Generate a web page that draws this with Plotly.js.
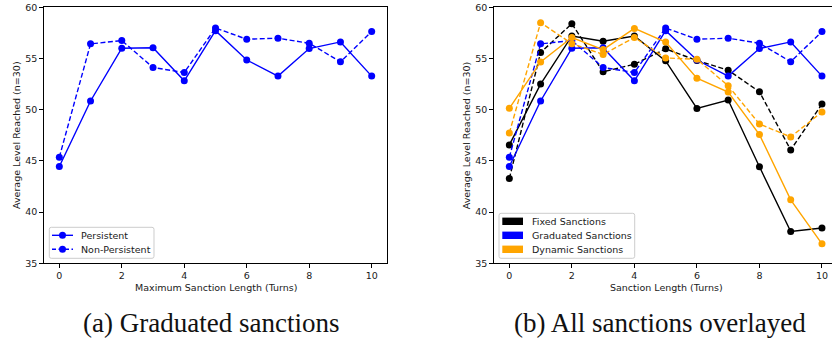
<!DOCTYPE html>
<html>
<head>
<meta charset="utf-8">
<script src="https://cdn.plot.ly/plotly-3.0.1.min.js"></script>
<style>
html,body{margin:0;padding:0;overflow:hidden;background:#fff;}
#chart{width:840px;height:339px;}
</style>
</head>
<body>
<div id="chart"></div>
<script>
// ---- data ----
const sanctionLength = [0,1,2,3,4,5,6,7,8,9,10];
const gradPersistent    = [44.45, 50.85, 56.0, 56.05, 52.82, 57.72, 54.85, 53.28, 55.97, 56.62, 53.28];
const gradNonPersistent = [45.36, 56.43, 56.75, 54.12, 53.63, 57.98, 56.88, 56.98, 56.49, 54.68, 57.63];
const fixedPersistent    = [46.56, 52.5, 57.2, 56.68, 57.2, 54.77, 50.12, 50.94, 44.43, 38.1, 38.45];
const fixedNonPersistent = [43.28, 55.58, 58.4, 53.7, 54.44, 55.94, 54.8, 53.86, 51.75, 46.07, 50.55];
const dynPersistent    = [50.13, 54.67, 57.05, 55.87, 57.94, 56.6, 53.08, 51.72, 47.57, 41.2, 36.9];
const dynNonPersistent = [47.73, 58.5, 56.45, 55.4, 57.05, 55.05, 54.93, 52.34, 48.6, 47.34, 49.78];
const xTicks = [0,2,4,6,8,10];
const yTicks = [35,40,45,50,55,60];
const leftLegendLabels = ['Persistent','Non-Persistent'];
const rightLegendLabels = ['Fixed Sanctions','Graduated Sanctions','Dynamic Sanctions'];
const yTitle = 'Average Level Reached (n=30)';
const xTitleLeft = 'Maximum Sanction Length (Turns)';
const xTitleRight = 'Sanction Length (Turns)';
const captionLeft = '(a) Graduated sanctions';
const captionRight = '(b) All sanctions overlayed';

// ---- styling ----
const W = 840, H = 339;
const BLUE = '#0000ff', BLACK = '#000000', ORANGE = '#ffa500';
const DASH = '5px,2.5px';
const LW = 1.4, MS = 7;
const SANS = 'DejaVu Sans';
const FS = 9.5;
const TXT = '#1a1a1a';
function px(x){ return x / W; }
function py(y){ return 1 - y / H; }

function tr(x, y, color, dashed, xa, ya){
  return {
    type:'scatter', mode:'lines+markers', x:x, y:y, xaxis:xa, yaxis:ya,
    line:{color:color, width:LW, dash: dashed ? DASH : 'solid'},
    marker:{color:color, size:MS},
    showlegend:false, hoverinfo:'skip'
  };
}

const data = [
  tr(sanctionLength, gradPersistent, BLUE, false, 'x', 'y'),
  tr(sanctionLength, gradNonPersistent, BLUE, true, 'x', 'y'),
  tr(sanctionLength, fixedPersistent, BLACK, false, 'x2', 'y2'),
  tr(sanctionLength, fixedNonPersistent, BLACK, true, 'x2', 'y2'),
  tr(sanctionLength, gradPersistent, BLUE, false, 'x2', 'y2'),
  tr(sanctionLength, gradNonPersistent, BLUE, true, 'x2', 'y2'),
  tr(sanctionLength, dynPersistent, ORANGE, false, 'x2', 'y2'),
  tr(sanctionLength, dynNonPersistent, ORANGE, true, 'x2', 'y2')
];

function xax(domain){
  return {
    domain: domain, range:[-0.5,10.5], tickmode:'array', tickvals:xTicks,
    ticktext: xTicks.map(String),
    ticks:'outside', ticklen:3.5, tickwidth:1, tickcolor:'#000',
    showline:true, linecolor:'#000', linewidth:1, mirror:true,
    showgrid:false, zeroline:false,
    tickfont:{family:SANS, size:FS, color:TXT}, fixedrange:true
  };
}
function yax(anchor){
  return {
    domain:[1-263.3/H, 1-7.3/H], range:[35,60], tickmode:'array', tickvals:yTicks,
    ticktext: yTicks.map(String), anchor:anchor,
    ticks:'outside', ticklen:3.5, tickwidth:1, tickcolor:'#000',
    showline:true, linecolor:'#000', linewidth:1, mirror:true,
    showgrid:false, zeroline:false,
    tickfont:{family:SANS, size:FS, color:TXT}, fixedrange:true
  };
}

const shapes = [];
const annotations = [];

function txt(text, x, y, opts){
  annotations.push(Object.assign({
    text:text, xref:'paper', yref:'paper', x:px(x), y:py(y),
    xanchor:'left', yanchor:'middle', showarrow:false,
    font:{family:SANS, size:FS, color:TXT}
  }, opts||{}));
}

function roundedBox(x0,y0,x1,y1,r){
  const p = [
    'M', px(x0+r), py(y0),
    'L', px(x1-r), py(y0),
    'Q', px(x1), py(y0), px(x1), py(y0+r),
    'L', px(x1), py(y1-r),
    'Q', px(x1), py(y1), px(x1-r), py(y1),
    'L', px(x0+r), py(y1),
    'Q', px(x0), py(y1), px(x0), py(y1-r),
    'L', px(x0), py(y0+r),
    'Q', px(x0), py(y0), px(x0+r), py(y0), 'Z'
  ];
  let s = '';
  for (let i=0;i<p.length;i++){
    if (typeof p[i] === 'string') s += p[i] + ' ';
    else { s += p[i].toFixed(5) + (typeof p[i+1]==='number' ? ',' : ' '); }
  }
  shapes.push({type:'path', xref:'paper', yref:'paper', path:s.trim(),
    line:{color:'#cccccc', width:1}, fillcolor:'rgba(255,255,255,0.8)', layer:'above'});
}

// left legend
roundedBox(49.3, 227.3, 154, 258.3, 2);
const leftRows = [235.3, 249.3];
leftLegendLabels.forEach((lab, i) => {
  const yy = leftRows[i];
  shapes.push({type:'line', xref:'paper', yref:'paper', x0:px(52), x1:px(73), y0:py(yy), y1:py(yy),
    line:{color:BLUE, width:LW, dash: i===1 ? '4px,2.5px' : 'solid'}, layer:'above'});
  shapes.push({type:'circle', xref:'paper', yref:'paper', x0:px(62.5-3.5), x1:px(62.5+3.5), y0:py(yy+3.5), y1:py(yy-3.5),
    line:{color:BLUE, width:0}, fillcolor:BLUE, layer:'above'});
  txt(lab, 79, yy);
});

// right legend
roundedBox(499, 213.3, 634.7, 258.3, 2);
const rightRows = [221.3, 235.3, 249.3];
const rightColors = [BLACK, BLUE, ORANGE];
rightLegendLabels.forEach((lab, i) => {
  const yy = rightRows[i];
  shapes.push({type:'rect', xref:'paper', yref:'paper', x0:px(502.3), x1:px(523), y0:py(yy+3.7), y1:py(yy-3.7),
    line:{width:0}, fillcolor:rightColors[i], layer:'above'});
  txt(lab, 529.5, yy);
});

// axis titles
txt(yTitle, 16.7, 135.3, {xanchor:'center', textangle:-90});
txt(yTitle, 466, 135.3, {xanchor:'center', textangle:-90});
txt(xTitleLeft, 216, 287, {xanchor:'center'});
txt(xTitleRight, 666, 287, {xanchor:'center'});

// captions
txt(captionLeft, 210.5, 322.5, {xanchor:'center', font:{family:'Liberation Serif', size:27, color:'#111'}});
txt(captionRight, 660, 322.5, {xanchor:'center', font:{family:'Liberation Serif', size:27, color:'#111'}});

const layout = {
  width:W, height:H,
  margin:{l:0, r:0, t:0, b:0, pad:0},
  paper_bgcolor:'#fff', plot_bgcolor:'#fff',
  xaxis: Object.assign(xax([43.7/W, 387.3/W]), {anchor:'y'}),
  yaxis: yax('x'),
  xaxis2: Object.assign(xax([493.7/W, 837.6/W]), {anchor:'y2'}),
  yaxis2: yax('x2'),
  shapes: shapes,
  annotations: annotations,
  showlegend:false
};

Plotly.newPlot('chart', data, layout, {staticPlot:true, displayModeBar:false});
</script>
</body>
</html>
